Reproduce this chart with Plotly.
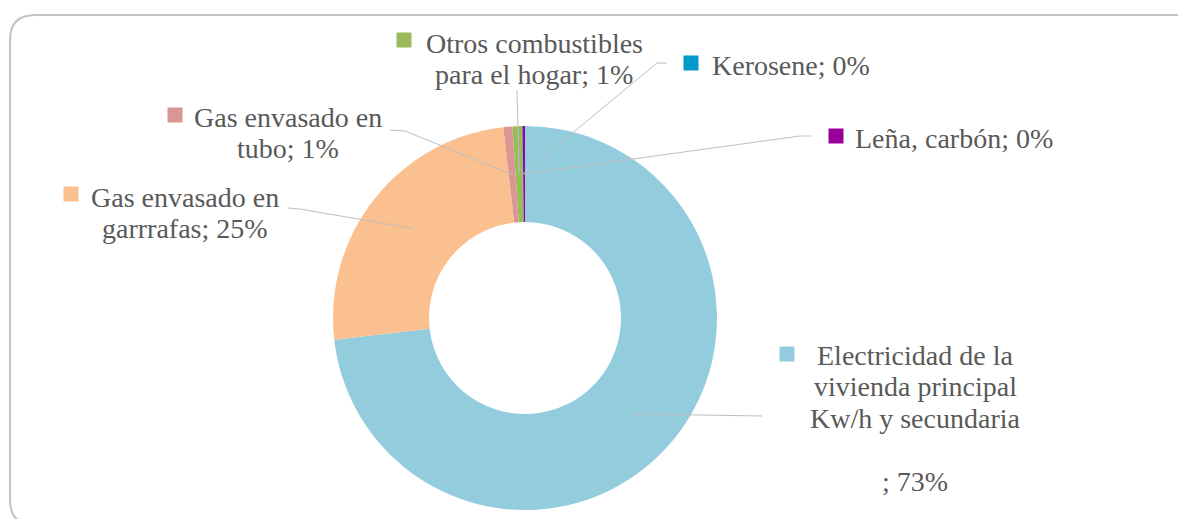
import math
import plotly.graph_objects as go

# ---------------- data ----------------
categories = [
    "Electricidad de la vivienda principal Kw/h y secundaria",
    "Gas envasado en garrrafas",
    "Gas envasado en tubo",
    "Otros combustibles para el hogar",
    "Kerosene",
    "Leña, carbón",
]
values = [73.2, 25.0, 0.75, 0.8, 0.05, 0.2]
pct_labels = ["73%", "25%", "1%", "1%", "0%", "0%"]
label_lines = [
    ["Electricidad de la", "vivienda principal", "Kw/h y secundaria", "", "; {p}"],
    ["Gas envasado en", "garrrafas; {p}"],
    ["Gas envasado en", "tubo; {p}"],
    ["Otros combustibles", "para el hogar; {p}"],
    ["Kerosene; {p}"],
    ["Leña, carbón; {p}"],
]
colors = ["#93CDDD", "#FAC090", "#D99694", "#9BBB59", "#0099CC", "#990099"]

# ---------------- layout constants (page pixels) ----------------
W, H = 1186, 519
OFF = 8  # default page body margin; the figure starts at (8, 8)
FW, FH = W - OFF, H - OFF
PIE_CX, PIE_CY, PIE_R = 525, 318, 192
HOLE = 0.5
FONT = "Liberation Serif"
FSIZE = 28
TEXT_COLOR = "#595959"
LINE_SP = 31.5

# label text block: center x, first-line y
label_pos = [(915, 355), (185, 197), (288, 117), (534, 43), (791, 65), (954, 138)]
# legend key square centres
key_pos = [(787, 354), (71, 194), (175, 115), (404, 40), (691, 63), (836, 136)]
# leader line routes from the slice to the label
leader_routes = [
    [(762, 416)],
    [(300, 209), (288, 208)],
    [(405, 131), (390, 130)],
    [(517, 90)],
    [(657, 63), (667, 63)],
    [(800, 136), (811, 136)],
]

fig = go.Figure()

fig.add_trace(go.Pie(
    labels=categories,
    values=values,
    marker=dict(colors=colors, line=dict(width=0)),
    hole=HOLE,
    sort=False,
    direction="clockwise",
    rotation=0,
    textinfo="none",
    hoverinfo="label+percent",
    showlegend=False,
    domain=dict(
        x=[(PIE_CX - PIE_R - OFF) / FW, (PIE_CX + PIE_R - OFF) / FW],
        y=[1 - (PIE_CY + PIE_R - OFF) / FH, 1 - (PIE_CY - PIE_R - OFF) / FH],
    ),
))

# invisible pixel axes for annotations and leader lines
fig.add_trace(go.Scatter(x=[OFF, W], y=[OFF, H], mode="markers",
                         marker=dict(opacity=0), hoverinfo="skip", showlegend=False))

shapes = []
annotations = []

# frame with rounded corners
r = 25
x0, y0, x1, y1 = 10, 15, 1200, 525
frame_path = (f"M {x0} {y1-r} L {x0} {y0+r} Q {x0} {y0} {x0+r} {y0} "
              f"L {x1-r} {y0} Q {x1} {y0} {x1} {y0+r} L {x1} {y1-r} "
              f"Q {x1} {y1} {x1-r} {y1} L {x0+r} {y1} Q {x0} {y1} {x0} {y1-r} Z")
shapes.append(dict(type="path", path=frame_path, xref="x", yref="y",
                   line=dict(color="#C3C3C3", width=2), layer="below"))

total = sum(values)
cum = 0.0
r_mid = PIE_R * (1 + HOLE) / 2
for i, v in enumerate(values):
    mid = (cum + v / 2) / total * 2 * math.pi
    cum += v
    ax = PIE_CX + r_mid * math.sin(mid)
    ay = PIE_CY - r_mid * math.cos(mid)
    pts = [(ax, ay)] + leader_routes[i]
    path = "M " + " L ".join(f"{px:.1f} {py:.1f}" for px, py in pts)
    shapes.append(dict(type="path", path=path, xref="x", yref="y",
                       line=dict(color="#BFBFBF", width=1)))

    kx, ky = key_pos[i]
    shapes.append(dict(type="rect", xref="x", yref="y",
                       x0=kx - 7.5, x1=kx + 7.5, y0=ky - 7.5, y1=ky + 7.5,
                       fillcolor=colors[i], line=dict(width=0)))

    cx, cy = label_pos[i]
    for j, ln in enumerate(label_lines[i]):
        txt = ln.format(p=pct_labels[i])
        if not txt:
            continue
        annotations.append(dict(
            x=cx, y=cy + j * LINE_SP, xref="x", yref="y",
            text=txt, showarrow=False, xanchor="center", yanchor="middle",
            font=dict(family=FONT, size=FSIZE, color=TEXT_COLOR),
        ))

fig.update_layout(
    width=FW, height=FH,
    margin=dict(l=0, r=0, t=0, b=0),
    paper_bgcolor="white", plot_bgcolor="rgba(0,0,0,0)",
    xaxis=dict(range=[OFF, W], visible=False, fixedrange=True, domain=[0, 1]),
    yaxis=dict(range=[H, OFF], visible=False, fixedrange=True, domain=[0, 1]),
    shapes=shapes,
    annotations=annotations,
)

fig.write_html("out.html")
